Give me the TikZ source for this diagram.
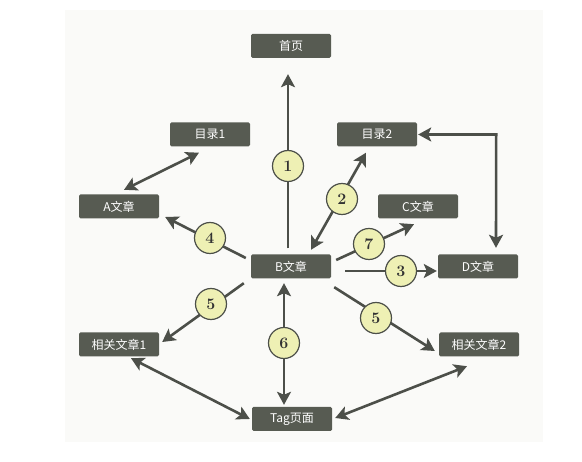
\documentclass[tikz,border=0pt]{standalone}
\usepackage{fontspec}
\newfontfamily\cjk{Noto Sans CJK SC}
\usetikzlibrary{arrows.meta}
\definecolor{boxfill}{HTML}{575B52}
\definecolor{linecol}{HTML}{4C4F49}
\definecolor{circfill}{HTML}{EEF0B4}
\definecolor{bgcol}{HTML}{FAFAF8}
\tikzset{
  pagebox/.style={draw=none, fill=boxfill, rounded corners=1.5pt, minimum width=80pt, minimum height=24pt, inner sep=0pt, text=white, font=\cjk\fontsize{12}{12}\selectfont},
  numcirc/.style={circle, draw=linecol, line width=1.2pt, fill=circfill, minimum size=31pt, inner sep=0pt, text=black!80, font=\bfseries\fontsize{16}{16}\selectfont},
  arr/.style={draw=linecol, line width=2.6pt, -{Stealth[length=13pt,width=14pt,inset=3pt]}},
  darr/.style={draw=linecol, line width=2.6pt, {Stealth[length=13pt,width=14pt,inset=3pt]}-{Stealth[length=13pt,width=14pt,inset=3pt]}}
}
\begin{document}
\begin{tikzpicture}[x=1pt,y=-1pt]
\useasboundingbox (0,0) rectangle (582,462);
\fill[bgcol] (65,10) rectangle (543,442);
% nodes
\node[pagebox] (home) at (291,46) {首页};
\node[pagebox] (cat1) at (210,134.5) {目录1};
\node[pagebox] (cat2) at (377,134.5) {目录2};
\node[pagebox] (A) at (119,206.5) {A文章};
\node[pagebox] (C) at (418,206.5) {C文章};
\node[pagebox] (B) at (291,266.5) {B文章};
\node[pagebox] (D) at (478,266.5) {D文章};
\node[pagebox] (R1) at (119,344.5) {相关文章1};
\node[pagebox] (R2) at (479,344.5) {相关文章2};
\node[pagebox] (T) at (292,419) {Tag页面};
% connectors
\draw[arr] ([shift={(-3,-6)}]B.north) -- ([shift={(-3,16)}]home.south);
\draw[darr] ([shift={(20,-4.5)}]B.north) -- ([shift={(-11,6)}]cat2.south);
\draw[arr] ([shift={(14,4.5)}]B.east) -- ([shift={(-1,4.5)}]D.west);
\draw[arr] ([shift={(-5,-8.5)}]B.west) -- ([shift={(6,10.5)}]A.east);
\draw[arr] ([shift={(5,-6.5)}]B.east) -- ([shift={(-4,5.5)}]C.south);
\draw[arr] ([shift={(-7,4.5)}]B.south west) -- ([shift={(3,-2.5)}]R1.east);
\draw[arr] ([shift={(3,8.5)}]B.south east) -- ([shift={(-4,6.5)}]R2.west);
\draw[darr] ([shift={(-7,4.5)}]B.south) -- ([shift={(-8,-2)}]T.north);
\draw[darr] ([shift={(5,-4.5)}]A.north) -- ([shift={(-11,6)}]cat1.south);
\coordinate (corner) at ([xshift=79pt]cat2.east);
\draw[darr] ([shift={(1,0)}]cat2.east) -- (corner) -- ([shift={(18,-6.5)}]D.north);
\draw[darr] ([shift={(12,1.5)}]R1.south) -- ([shift={(-2,0)}]T.west);
\draw[darr] ([shift={(-12,9.5)}]R2.south) -- ([shift={(3,-1)}]T.east);
% numbered circles
\node[numcirc] (n1) at (288,166) {1};
\node[numcirc] (n2) at (342,199) {2};
\node[numcirc] (n4) at (210,238) {4};
\node[numcirc] (n7) at (369,244) {7};
\node[numcirc] (n3) at (401,271) {3};
\node[numcirc] (n5a) at (211,304) {5};
\node[numcirc] (n6) at (284,343) {6};
\node[numcirc] (n5b) at (376,318) {5};
\end{tikzpicture}
\end{document}
